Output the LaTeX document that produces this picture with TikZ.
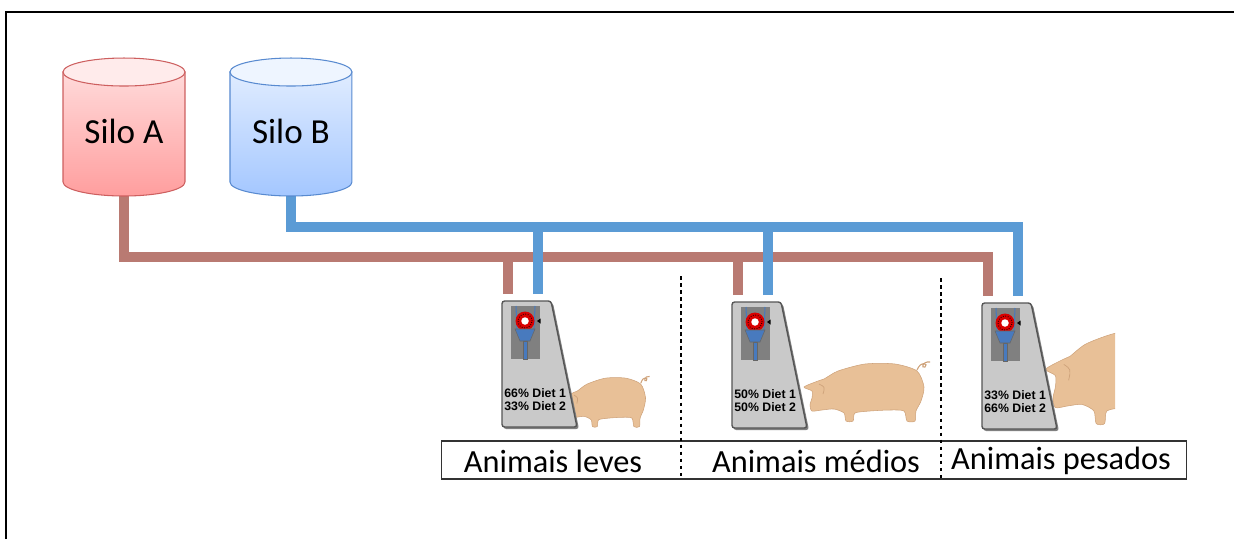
\documentclass[tikz,border=0pt]{standalone}
\usepackage{fontspec}
\setmainfont{Carlito}
\newfontfamily\dietfont{Liberation Sans}
\usepackage{tikz}
\usetikzlibrary{positioning,backgrounds}
\definecolor{pipered}{RGB}{185,122,114}
\definecolor{pipeblue}{RGB}{91,155,213}
\definecolor{siloredtop}{RGB}{255,218,218}
\definecolor{siloredbot}{RGB}{255,158,158}
\definecolor{siloredline}{RGB}{205,95,95}
\definecolor{silobluetop}{RGB}{224,236,255}
\definecolor{silobluebot}{RGB}{164,199,255}
\definecolor{siloblueline}{RGB}{88,138,208}
\definecolor{feedgray}{RGB}{201,201,201}
\definecolor{feedline}{RGB}{85,85,85}
\definecolor{panelgray}{RGB}{128,128,128}
\definecolor{funnelblue}{RGB}{72,122,190}
\definecolor{pigskin}{RGB}{232,192,151}
\definecolor{pigline}{RGB}{206,162,122}
\tikzset{
	%silo nodes, the drum is drawn behind them
	silo/.style={
		minimum width=2.44cm,
		minimum height=2.2cm,
		text height=0.64cm, text depth=0pt,
		inner sep=0pt, outer sep=0pt,
		font=\fontsize{20}{23}\selectfont},
	%feed pipes
	pipe/.style={line width=5.7pt, line join=miter},
	redpipe/.style={pipe, draw=pipered},
	bluepipe/.style={pipe, draw=pipeblue},
	%feeder parts
	feeder body/.style={
		fill=feedgray, draw=feedline,
		line width=0.8pt,
		rounded corners=1.5pt},
	diet/.style={
		font=\dietfont\bfseries\fontsize{7}{7.4}\selectfont,
		align=left, inner sep=0pt, anchor=west},
	pigbody/.style={fill=pigskin, draw=pigline, line width=0.3pt},
	%pens row
	penbox/.style={draw=black!80, line width=0.6pt,
		minimum width=14.92cm, minimum height=0.76cm, inner sep=0pt},
	pen/.style={font=\fontsize{18.4}{21}\selectfont, inner sep=0pt},
	divider/.style={dash pattern=on 2pt off 2pt, line width=0.6pt},
	%pig seen from the side, snout at the origin
	pig/.pic={
		\path[pigbody] plot[smooth cycle, tension=0.45] coordinates {
			(0,0) (2,6) (12,5) (24,4) (34,8) (36,16) (43,16) (45,8)
			(60,6) (80,5) (94,6) (97,16) (105,16) (106,6) (111,-4)
			(114,-18) (107,-34) (85,-41) (55,-41) (28,-34) (14,-26)
			(8,-24) (-6,-18) (2,-14) (2,-7)};
		\draw[pigline, line width=0.4pt] (9,-21) .. controls (15,-18) .. (13,-11);
		\draw[pigline, line width=0.6pt] (107,-35) .. controls (111,-45) and (119,-41) .. (115,-38)
			.. controls (111,-36) and (112,-44) .. (120,-43);
	}
}
% feeder: name, left x, top y, mix
\newcommand{\feeder}[4]{%
	\begin{scope}[shift={(#2,#3)}]
		\path[fill=black!50, rounded corners=1.5pt] (1.5,2) -- (1.5,128) -- (77,128) -- (51,2) -- cycle;
		\path[feeder body] (0,0) -- (0,126) -- (75,126) -- (49,0) -- cycle;
		\fill[panelgray] (9,5) rectangle (38,58);
		\draw[funnelblue, line width=0.6pt] (14,5) -- (15,28) (33,5) -- (32,28);
		\fill[red!85!black] (23,20) circle[radius=0.19cm];
		\draw[black, line width=0.5pt, dash pattern=on 0.4pt off 1pt] (23,20) circle[radius=0.14cm];
		\fill[white] (23,20) circle[radius=0.075cm];
		\fill[black] (35,20) -- (38.5,17.5) -- (38.5,22.5) -- cycle;
		\path[fill=funnelblue, draw=black!60, line width=0.3pt] (13,28) -- (33,28) -- (28,40) -- (18,40) -- cycle;
		\path[fill=funnelblue, draw=black!60, line width=0.3pt] (21.5,40) rectangle (25,58);
		\node[diet] at (2,99) {#4};
		\coordinate (#1-a) at (6,-7);
		\coordinate (#1-b) at (36,-7);
	\end{scope}}
% silo drum round a silo node
\newcommand{\silodrum}[4]{%
	\shade[top color=#2, bottom color=#3, draw=#4, line width=0.6pt]
		(#1.north west) -- (#1.south west)
		arc[start angle=180, end angle=360, x radius=1.22cm, y radius=0.28cm]
		-- (#1.north east) -- cycle;
	\draw[fill=#2!55!white, draw=#4, line width=0.6pt] (#1.north) ellipse[x radius=1.22cm, y radius=0.28cm];}

\begin{document}
\begin{tikzpicture}[x=0.02cm, y=-0.02cm]
	\useasboundingbox (0,0) rectangle (1234,539);
	\draw[line width=1.1pt] (6,539) -- (6,12) -- (1234,12);
	%silos
	\node[silo] (siloA) at (124,127) {Silo A};
	\node[silo, right=0.9cm of siloA] (siloB) {Silo B};
	%pigs, behind the feeders
	\pic[xscale=0.68, yscale=0.85] at (568,413) {pig};
	\pic at (810,405) {pig};
	\begin{scope}
		\clip (1030,300) rectangle (1115,440);
		\pic[xscale=1.2, yscale=1.6] at (1053,398) {pig};
	\end{scope}
	%feeders
	\feeder{feedA}{502}{301}{66\% Diet 1\\33\% Diet 2}
	\feeder{feedB}{732}{302}{50\% Diet 1\\50\% Diet 2}
	\feeder{feedC}{982}{303}{33\% Diet 1\\66\% Diet 2}
	%pens
	\node[penbox] (pens) at (814,460) {};
	\node[pen] (leves) at (553,461) {Animais leves};
	\node[pen] (medios) at (816,461) {Animais médios};
	\node[pen] (pesados) at (1061,461) {Animais pesados};
	\coordinate (cutA) at (681,276);
	\coordinate (cutB) at (941,278);
	\draw[divider] (cutA) -- (cutA |- pens.south);
	\draw[divider] (cutB) -- (cutB |- pens.south);
	%pipes and drums
	\begin{scope}[on background layer]
		\coordinate (redline) at (0,257);
		\coordinate (blueline) at (0,227);
		\draw[redpipe] (siloA.south) |- (feedC-a |- redline) -- (feedC-a);
		\foreach \f in {feedA,feedB}
			\draw[redpipe] (\f-a) -- (\f-a |- redline);
		\draw[bluepipe] (siloB.south) |- (feedC-b |- blueline) -- (feedC-b);
		\foreach \f in {feedA,feedB}
			\draw[bluepipe] (\f-b) -- (\f-b |- blueline);
		\silodrum{siloA}{siloredtop}{siloredbot}{siloredline}
		\silodrum{siloB}{silobluetop}{silobluebot}{siloblueline}
	\end{scope}
\end{tikzpicture}
\end{document}
